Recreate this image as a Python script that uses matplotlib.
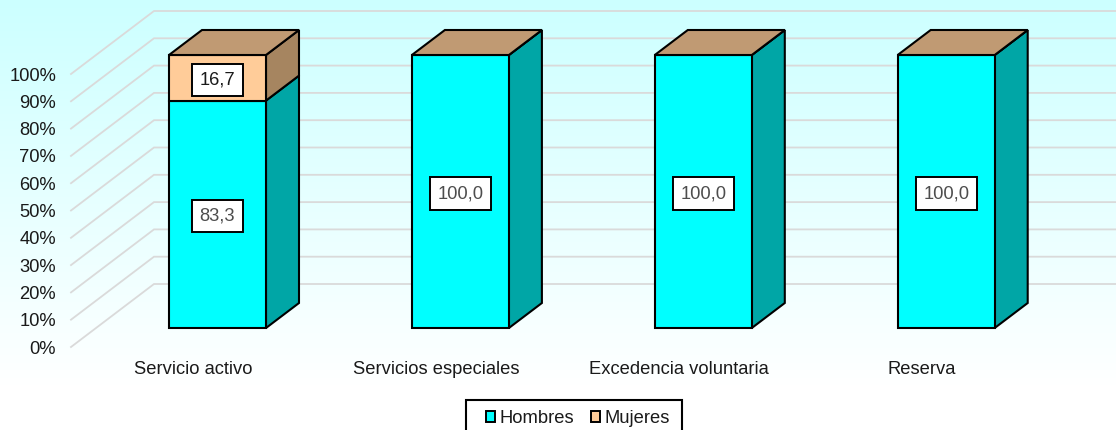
import numpy as np
import matplotlib.pyplot as plt
from matplotlib.patches import Patch, Rectangle

categorias = ['Servicio activo', 'Servicios especiales', 'Excedencia voluntaria', 'Reserva']
hombres = [83.3, 100.0, 100.0, 100.0]
mujeres = [16.7, 0.0, 0.0, 0.0]
marcas_y = [0, 10, 20, 30, 40, 50, 60, 70, 80, 90, 100]

plt.rcParams['font.family'] = ['Liberation Sans', 'DejaVu Sans']

W, H = 1116, 430
PX_X = 242.9   # pixeles por categoria
PX_Y = 2.73    # pixeles por punto porcentual
X0, Y0 = 217.5, 328.0
FS = 13.2

fig = plt.figure(figsize=(W / 100, H / 100), dpi=100)
ax = fig.add_axes([0, 0, 1, 1])
ax.set_xlim(-X0 / PX_X, (W - X0) / PX_X)
ax.set_ylim((Y0 - H) / PX_Y, Y0 / PX_Y)
ax.axis('off')

# Fondo degradado
grad = np.ones((H, 1, 3))
t = np.clip(np.arange(H) / 385, 0, 1)
grad[:, 0, 0] = 0.80 + 0.20 * t
ax.imshow(grad, extent=[*ax.get_xlim(), *ax.get_ylim()], aspect='auto', zorder=0)

# Profundidad 3D
dx = 33 / PX_X
dy = 25 / PX_Y
ancho = 97 / PX_X

# Rejilla
x_izq = (71 - X0) / PX_X
x_fondo = (154 - X0) / PX_X
x_fin = (W - X0) / PX_X
off_frente = -19 / PX_Y
off_fondo = 44 / PX_Y
for v in marcas_y:
    ax.plot([x_izq, x_fondo, x_fin], [v + off_frente, v + off_fondo, v + off_fondo],
            color='#DADADA', lw=1.3, zorder=1, solid_joinstyle='miter')
    ax.text((56 - X0) / PX_X, v + off_frente, f'{v}%', ha='right', va='center_baseline',
            fontsize=FS, color='#1a1a1a', zorder=6)


def caja(x, base, alto, frente, lado, arriba=None):
    izq, der = x - ancho / 2, x + ancho / 2
    techo = base + alto
    kw = dict(edgecolor='black', lw=1.5, joinstyle='miter')
    ax.fill([der, der + dx, der + dx, der], [base, base + dy, techo + dy, techo],
            facecolor=lado, zorder=3, **kw)
    if alto > 0:
        ax.fill([izq, der, der, izq], [base, base, techo, techo],
                facecolor=frente, zorder=3, **kw)
    if arriba:
        ax.fill([izq, der, der + dx, izq + dx], [techo, techo, techo + dy, techo + dy],
                facecolor=arriba, zorder=3, **kw)


def etiqueta(x, y, texto, color):
    ax.text(x, y, texto, ha='center', va='center_baseline', fontsize=FS, color=color, zorder=5,
            bbox=dict(boxstyle='square,pad=0.41', facecolor='white', edgecolor='black', lw=1.4))


for i, (h, m) in enumerate(zip(hombres, mujeres)):
    caja(i, 0, h, '#00FFFF', '#00A6A6')
    caja(i, h, m, '#FFCC99', '#A68560', arriba='#C09A73')
    etiqueta(i, h / 2, f'{h:.1f}'.replace('.', ','), '#4d4d4d')
    if m > 0:
        etiqueta(i, h + m / 2, f'{m:.1f}'.replace('.', ','), '#1a1a1a')
    ax.text(i - 24.5 / PX_X, -40 / PX_Y, categorias[i], ha='center', va='center_baseline',
            fontsize=FS, color='#1a1a1a', zorder=6)

# Leyenda: marco a mano porque se sale por abajo de la imagen
ax.add_patch(Rectangle(((466 - X0) / PX_X, (Y0 - 440) / PX_Y), 216 / PX_X, 40 / PX_Y,
                       facecolor='white', edgecolor='black', lw=1.5, zorder=6))
handles = [Patch(facecolor='#00FFFF', edgecolor='black', lw=1.4, label='Hombres'),
           Patch(facecolor='#FFCC99', edgecolor='black', lw=1.4, label='Mujeres')]
leg = ax.legend(handles=handles, loc='center', bbox_to_anchor=(578 / W, 1 - 418.5 / H),
                ncol=2, frameon=False, fontsize=FS, handlelength=0.5, handleheight=0.55,
                handletextpad=0.22, columnspacing=0.95, borderpad=0, borderaxespad=0)
leg.set_zorder(7)
for txt in leg.get_texts():
    txt.set_color('#1a1a1a')

fig.savefig('out.png', dpi=100)
